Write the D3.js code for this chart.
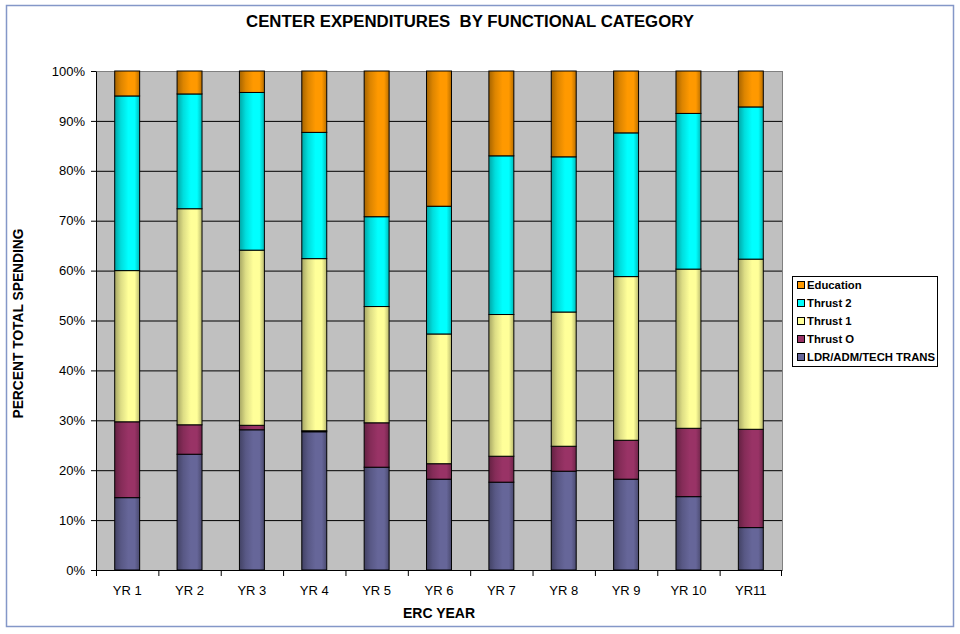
<!DOCTYPE html>
<html>
<head>
<meta charset="utf-8">
<script src="https://cdn.jsdelivr.net/npm/d3@7/dist/d3.min.js"></script>
<style>
  body { margin: 0; background: #fff; }
  text { font-family: Arial, "Liberation Sans", sans-serif; }
</style>
</head>
<body>
<div id="chart"></div>
<script>
// values, percent of total spending
var years = ["YR 1", "YR 2", "YR 3", "YR 4", "YR 5", "YR 6", "YR 7", "YR 8", "YR 9", "YR 10", "YR11"];
var ldr       = [14.5, 23.2, 28.1, 27.7, 20.6, 18.2, 17.6, 19.8, 18.2, 14.7, 8.5];
var thrustO   = [15.2, 5.9, 0.9, 0.2, 8.9, 3.1, 5.2, 5.0, 7.8, 13.7, 19.7];
var thrust1   = [30.3, 43.3, 35.1, 34.5, 23.3, 26.0, 28.4, 26.9, 32.8, 31.9, 34.1];
var thrust2   = [35.0, 23.0, 31.6, 25.3, 18.0, 25.6, 31.8, 31.1, 28.8, 31.2, 30.5];
var education = [5.0, 4.6, 4.3, 12.3, 29.2, 27.1, 17.0, 17.2, 12.4, 8.5, 7.2];
var yTicks = [0, 10, 20, 30, 40, 50, 60, 70, 80, 90, 100];

var series = [
  {key: "ldr", name: "LDR/ADM/TECH TRANS", values: ldr, color: "#666699"},
  {key: "thrustO", name: "Thrust O", values: thrustO, color: "#993366"},
  {key: "thrust1", name: "Thrust 1", values: thrust1, color: "#FFFF99"},
  {key: "thrust2", name: "Thrust 2", values: thrust2, color: "#00FFFF"},
  {key: "education", name: "Education", values: education, color: "#FF9900"}
];

var width = 960, height = 634,
    margin = {top: 71, right: 178, bottom: 64, left: 96};
var innerW = width - margin.left - margin.right,
    innerH = height - margin.top - margin.bottom;

var svg = d3.select("#chart").append("svg")
  .attr("width", width)
  .attr("height", height);

// outer frame
svg.append("rect")
  .attr("x", 6.5).attr("y", 5.5)
  .attr("width", 947).attr("height", 621)
  .attr("fill", "#fff")
  .attr("stroke", "#8497c8")
  .attr("stroke-width", 1.5);

// cylinder-like shading for each colour
var defs = svg.append("defs");
series.forEach(function(s) {
  var g = defs.append("linearGradient")
    .attr("id", "grad-" + s.key)
    .attr("x1", "0%").attr("x2", "100%").attr("y1", "0%").attr("y2", "0%");
  var c = d3.color(s.color);
  g.append("stop").attr("offset", "0%").attr("stop-color", c.darker(1.2));
  g.append("stop").attr("offset", "25%").attr("stop-color", c.darker(0.4));
  g.append("stop").attr("offset", "55%").attr("stop-color", c);
  g.append("stop").attr("offset", "80%").attr("stop-color", c);
  g.append("stop").attr("offset", "100%").attr("stop-color", c.darker(0.9));
});

var g = svg.append("g")
  .attr("transform", `translate(${margin.left},${margin.top})`);

var x = d3.scaleBand().domain(years).range([0, innerW]).paddingInner(0.6).paddingOuter(0.3);
var xCat = d3.scaleBand().domain(years).range([0, innerW]);
var y = d3.scaleLinear().domain([0, 100]).range([innerH, 0]);

g.append("rect")
  .attr("width", innerW).attr("height", innerH)
  .attr("fill", "#C0C0C0");

// gridlines
g.selectAll(".grid")
  .data(yTicks.slice(1, -1))
  .enter().append("line")
  .attr("x1", 0).attr("x2", innerW)
  .attr("y1", d => y(d) + 0.5).attr("y2", d => y(d) + 0.5)
  .attr("stroke", "#000").attr("stroke-width", 1);

g.append("rect")
  .attr("x", 0.5).attr("y", 0.5)
  .attr("width", innerW).attr("height", innerH)
  .attr("fill", "none").attr("stroke", "#808080");

// stacked bars
var table = years.map(function(yr, i) {
  var row = {year: yr};
  series.forEach(s => row[s.key] = s.values[i]);
  return row;
});
var stack = d3.stack().keys(series.map(s => s.key));
var layers = stack(table);

g.selectAll(".layer")
  .data(layers)
  .enter().append("g")
  .attr("class", "layer")
  .attr("fill", d => "url(#grad-" + d.key + ")")
  .selectAll("rect")
  .data(d => d)
  .enter().append("rect")
  .attr("x", d => x(d.data.year))
  .attr("y", d => y(d[1]))
  .attr("width", x.bandwidth())
  .attr("height", d => y(d[0]) - y(d[1]))
  .attr("stroke", "#000")
  .attr("stroke-width", 1);

// y axis
var yAxis = d3.axisLeft(y).tickValues(yTicks).tickFormat(d => d + "%").tickSize(5).tickPadding(6).tickSizeOuter(0);
var ya = g.append("g").call(yAxis);
ya.select(".domain").attr("stroke", "#000");
ya.selectAll("text").style("font-size", "13px").attr("fill", "#000");

// x axis with ticks between categories
var xa = g.append("g").attr("transform", `translate(0,${innerH})`);
xa.append("line").attr("x1", 0).attr("x2", innerW).attr("y1", 0.5).attr("y2", 0.5).attr("stroke", "#000");
xa.selectAll(".tk")
  .data(years.concat(["end"]))
  .enter().append("line")
  .attr("x1", (d, i) => i < years.length ? xCat(d) + 0.5 : innerW - 0.5)
  .attr("x2", (d, i) => i < years.length ? xCat(d) + 0.5 : innerW - 0.5)
  .attr("y1", 0).attr("y2", 6)
  .attr("stroke", "#000");
xa.selectAll(".lbl")
  .data(years)
  .enter().append("text")
  .attr("x", d => xCat(d) + xCat.bandwidth() / 2)
  .attr("y", 25)
  .attr("text-anchor", "middle")
  .style("font-size", "13px")
  .text(d => d);

// titles
svg.append("text")
  .attr("x", 470).attr("y", 27)
  .attr("text-anchor", "middle")
  .style("font-size", "16.8px").style("font-weight", "bold")
  .style("white-space", "pre")
  .text("CENTER EXPENDITURES  BY FUNCTIONAL CATEGORY");

svg.append("text")
  .attr("x", margin.left + innerW / 2).attr("y", 618)
  .attr("text-anchor", "middle")
  .style("font-size", "14px").style("font-weight", "bold")
  .text("ERC YEAR");

svg.append("text")
  .attr("transform", `translate(23,${margin.top + innerH / 2 + 3}) rotate(-90)`)
  .attr("text-anchor", "middle")
  .style("font-size", "13.8px").style("font-weight", "bold")
  .text("PERCENT TOTAL SPENDING");

// legend
var legend = svg.append("g").attr("transform", "translate(792,276)");
legend.append("rect")
  .attr("x", 0.5).attr("y", 0.5).attr("width", 145).attr("height", 90)
  .attr("fill", "#fff").attr("stroke", "#000");
var items = legend.selectAll(".item")
  .data(series.slice().reverse())
  .enter().append("g")
  .attr("transform", (d, i) => `translate(5,${9 + i * 18})`);
items.append("rect")
  .attr("x", 0.5).attr("y", -3.5).attr("width", 7).attr("height", 7)
  .attr("fill", d => d.color).attr("stroke", "#000");
items.append("text")
  .attr("x", 10).attr("y", 4)
  .style("font-size", "11.3px").style("font-weight", "bold")
  .text(d => d.name);
</script>
</body>
</html>
